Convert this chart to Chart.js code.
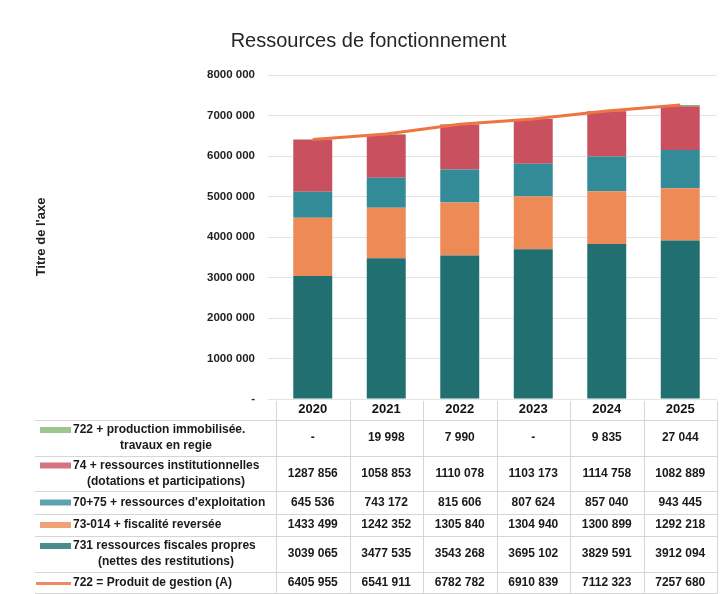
<!DOCTYPE html>
<html>
<head>
<meta charset="utf-8">
<script src="https://cdn.jsdelivr.net/npm/chart.js@4.4.1/dist/chart.umd.min.js"></script>
<style>
  html, body { margin: 0; padding: 0; background: #ffffff; }
  canvas { display: block; }
</style>
</head>
<body>
<canvas id="chart" width="722" height="594"></canvas>
<script>
// Years shown on the x axis and as table header
const years = ['2020', '2021', '2022', '2023', '2024', '2025'];

// Series values (euros)
const productionImmobilisee = [null, 19998, 7990, null, 9835, 27044];
const ressourcesInstitutionnelles = [1287856, 1058853, 1110078, 1103173, 1114758, 1082889];
const ressourcesExploitation = [645536, 743172, 815606, 807624, 857040, 943445];
const fiscaliteReversee = [1433499, 1242352, 1305840, 1304940, 1300899, 1292218];
const ressourcesFiscalesPropres = [3039065, 3477535, 3543268, 3695102, 3829591, 3912094];
const produitGestion = [6405955, 6541911, 6782782, 6910839, 7112323, 7257680];

// Y axis tick values
const yTickValues = [0, 1000000, 2000000, 3000000, 4000000, 5000000, 6000000, 7000000, 8000000];

// Series names, as written in the data table
const nameProduction = ['722 + production immobilisée.', 'travaux en regie'];
const nameInstitutionnelles = ['74 + ressources institutionnelles', '(dotations et participations)'];
const nameExploitation = ["70+75 + ressources d'exploitation"];
const nameFiscalite = ['73-014 + fiscalité reversée'];
const nameFiscalesPropres = ['731 ressources fiscales propres', '(nettes des restitutions)'];
const nameProduit = ['722 = Produit de gestion (A)'];

const COLORS = {
  production: '#86b874',
  institutionnelles: '#c9515f',
  exploitation: '#348b98',
  fiscalite: '#ee8a55',
  fiscalesPropres: '#216f70',
  produit: '#ef7444'
};

const FONT = "'Liberation Sans', Arial, sans-serif";

// French-style grouping: a space before the last three digits
function fmt(v) {
  if (v === null || v === undefined) return '-';
  const s = String(Math.round(v));
  return s.length > 3 ? s.slice(0, -3) + ' ' + s.slice(-3) : s;
}

// Table rows in display order (top to bottom)
const tableRows = [
  { name: nameProduction, values: productionImmobilisee, color: COLORS.production, kind: 'bar' },
  { name: nameInstitutionnelles, values: ressourcesInstitutionnelles, color: COLORS.institutionnelles, kind: 'bar' },
  { name: nameExploitation, values: ressourcesExploitation, color: COLORS.exploitation, kind: 'bar' },
  { name: nameFiscalite, values: fiscaliteReversee, color: COLORS.fiscalite, kind: 'bar' },
  { name: nameFiscalesPropres, values: ressourcesFiscalesPropres, color: COLORS.fiscalesPropres, kind: 'bar' },
  { name: nameProduit, values: produitGestion, color: COLORS.produit, kind: 'line' }
];

// Row boundaries of the data table (below the year header)
const rowEdges = [420, 456, 491, 514, 536, 572, 593];

const dataTablePlugin = {
  id: 'dataTable',
  afterDraw(chart) {
    const { ctx, chartArea } = chart;
    const x = chart.scales.x;
    const step = x.getPixelForValue(1) - x.getPixelForValue(0);
    const colLeft = x.getPixelForValue(0) - step / 2;
    const colRight = x.getPixelForValue(years.length - 1) + step / 2;
    const tableLeft = 35;

    ctx.save();
    ctx.strokeStyle = '#d6d6d6';
    ctx.lineWidth = 1;

    // vertical separators between year columns
    for (let i = 0; i <= years.length; i++) {
      const px = Math.round(colLeft + i * step) + 0.5;
      ctx.beginPath();
      ctx.moveTo(px, chartArea.bottom + 2);
      ctx.lineTo(px, 594);
      ctx.stroke();
    }
    // horizontal row lines
    rowEdges.forEach(y => {
      ctx.beginPath();
      ctx.moveTo(tableLeft, y + 0.5);
      ctx.lineTo(colRight, y + 0.5);
      ctx.stroke();
    });

    ctx.textBaseline = 'middle';
    tableRows.forEach((row, r) => {
      const top = rowEdges[r];
      const bottom = rowEdges[r + 1];
      const mid = (top + bottom) / 2;
      const lines = row.name;
      const firstY = lines.length > 1 ? mid - 8 : mid;

      // legend key
      if (row.kind === 'bar') {
        ctx.fillStyle = row.color;
        ctx.globalAlpha = 0.8;
        ctx.fillRect(40, firstY - 3, 31, 6);
        ctx.globalAlpha = 1;
      } else {
        ctx.strokeStyle = row.color;
        ctx.globalAlpha = 0.85;
        ctx.lineWidth = 3;
        ctx.beginPath();
        ctx.moveTo(36, firstY + 1);
        ctx.lineTo(71, firstY + 1);
        ctx.stroke();
        ctx.globalAlpha = 1;
        ctx.lineWidth = 1;
        ctx.strokeStyle = '#d6d6d6';
      }

      // series name
      ctx.fillStyle = '#1a1a1a';
      ctx.font = `bold 12px ${FONT}`;
      ctx.textAlign = 'left';
      ctx.fillText(lines[0], 73, firstY);
      if (lines.length > 1) {
        ctx.textAlign = 'center';
        ctx.fillText(lines[1], 166, mid + 8);
      }

      // values
      ctx.font = `bold 12px ${FONT}`;
      ctx.textAlign = 'center';
      row.values.forEach((v, i) => {
        ctx.fillText(fmt(v), x.getPixelForValue(i), mid);
      });
    });
    ctx.restore();
  }
};

new Chart(document.getElementById('chart'), {
  type: 'bar',
  data: {
    labels: years,
    datasets: [
      {
        type: 'line',
        label: nameProduit.join(' '),
        data: produitGestion,
        borderColor: COLORS.produit,
        backgroundColor: COLORS.produit,
        borderWidth: 3,
        pointRadius: 0,
        tension: 0,
        stack: 'total',
        order: 0
      },
      { label: nameFiscalesPropres.join(' '), data: ressourcesFiscalesPropres, backgroundColor: COLORS.fiscalesPropres, stack: 'ressources', order: 1 },
      { label: nameFiscalite.join(' '), data: fiscaliteReversee, backgroundColor: COLORS.fiscalite, stack: 'ressources', order: 1 },
      { label: nameExploitation.join(' '), data: ressourcesExploitation, backgroundColor: COLORS.exploitation, stack: 'ressources', order: 1 },
      { label: nameInstitutionnelles.join(' '), data: ressourcesInstitutionnelles, backgroundColor: COLORS.institutionnelles, stack: 'ressources', order: 1 },
      { label: nameProduction.join(' '), data: productionImmobilisee, backgroundColor: COLORS.production, stack: 'ressources', order: 1 }
    ]
  },
  options: {
    responsive: false,
    animation: false,
    devicePixelRatio: 1,
    layout: { padding: { left: 20, right: 5, top: 0, bottom: 173 } },
    datasets: {
      bar: { barPercentage: 0.53, categoryPercentage: 1 }
    },
    plugins: {
      legend: { display: false },
      tooltip: { enabled: false },
      title: {
        display: true,
        text: 'Ressources de fonctionnement',
        color: '#262626',
        font: { family: FONT, size: 20, weight: 'normal' },
        padding: { top: 29, bottom: 22 }
      }
    },
    scales: {
      x: {
        stacked: true,
        grid: { display: false, drawTicks: false },
        border: { display: false },
        ticks: {
          color: '#111',
          padding: 3,
          font: { family: FONT, size: 13, weight: 'bold' }
        },
        afterFit(scale) { scale.height = 22; }
      },
      y: {
        stacked: true,
        min: 0,
        max: 8000000,
        afterBuildTicks(scale) { scale.ticks = yTickValues.map(v => ({ value: v })); },
        grid: { color: '#e4e4e4', tickLength: 8, tickColor: '#e4e4e4' },
        border: { display: false },
        ticks: {
          color: '#222',
          padding: 13,
          font: { family: FONT, size: 11.5, weight: 'bold' },
          callback: v => v === 0 ? '-' : (v / 1000) + ' 000'
        },
        title: {
          display: true,
          text: "Titre de l'axe",
          color: '#222',
          font: { family: FONT, size: 13, weight: 'bold' },
          padding: { top: 14, bottom: 0 }
        },
        afterFit(scale) { scale.width = 256; }
      }
    }
  },
  plugins: [dataTablePlugin]
});
</script>
</body>
</html>
